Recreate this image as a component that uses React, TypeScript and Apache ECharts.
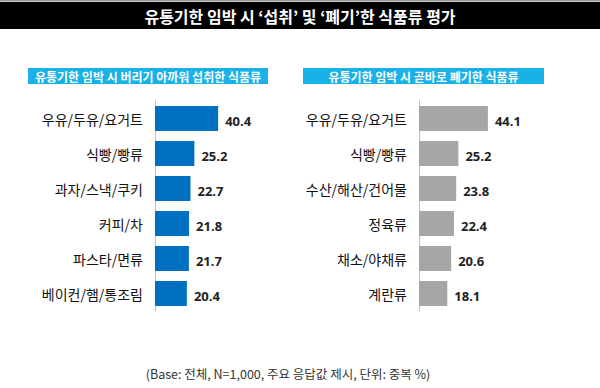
import React, { useEffect, useRef } from "react";
import * as echarts from "echarts";

const titleText = "유통기한 임박 시 ‘섭취’ 및 ‘폐기’한 식품류 평가";
const leftHeader = "유통기한 임박 시 버리기 아까워 섭취한 식품류";
const rightHeader = "유통기한 임박 시 곧바로 폐기한 식품류";
const footnote = "(Base: 전체, N=1,000, 주요 응답값 제시, 단위: 중복 %)";

const leftCategories = ["우유/두유/요거트", "식빵/빵류", "과자/스낵/쿠키", "커피/차", "파스타/면류", "베이컨/햄/통조림"];
const leftValues = [40.4, 25.2, 22.7, 21.8, 21.7, 20.4];

const rightCategories = ["우유/두유/요거트", "식빵/빵류", "수산/해산/건어물", "정육류", "채소/야채류", "계란류"];
const rightValues = [44.1, 25.2, 23.8, 22.4, 20.6, 18.1];

const FONT = "'Noto Sans CJK KR', 'Noto Sans', sans-serif";

export default function App() {
  const ref = useRef<HTMLDivElement>(null);
  useEffect(() => {
    if (!ref.current) return;
    const chart = echarts.init(ref.current, undefined, { renderer: "svg" });
    const gridTop = 101;
    const gridHeight = 210;
    const common = (idx: number) => ({
      type: "category" as const,
      gridIndex: idx,
      inverse: true,
      axisLine: { show: true, lineStyle: { color: "#bfbfbf", width: 1 } },
      axisTick: { show: false },
      axisLabel: { fontSize: 14, color: "#111", margin: 12, fontFamily: FONT },
    });
    const valueLabel = {
      show: true,
      position: "right" as const,
      distance: 7,
      offset: [0, 2],
      fontSize: 13,
      fontWeight: "bold" as const,
      color: "#222",
      fontFamily: "'Open Sans', sans-serif",
      formatter: (p: any) => p.value.toFixed(1),
    };
    chart.setOption({
      animation: false,
      backgroundColor: "#ffffff",
      grid: [
        { left: 155, top: gridTop, width: 125, height: gridHeight },
        { left: 419, top: gridTop, width: 125, height: gridHeight },
      ],
      xAxis: [
        { type: "value", gridIndex: 0, min: 0, max: 80, show: false },
        { type: "value", gridIndex: 1, min: 0, max: 80, show: false },
      ],
      yAxis: [
        { ...common(0), data: leftCategories },
        { ...common(1), data: rightCategories },
      ],
      series: [
        {
          type: "bar",
          xAxisIndex: 0,
          yAxisIndex: 0,
          data: leftValues,
          barWidth: 25,
          itemStyle: { color: "#0070c0" },
          label: valueLabel,
        },
        {
          type: "bar",
          xAxisIndex: 1,
          yAxisIndex: 1,
          data: rightValues,
          barWidth: 25,
          itemStyle: { color: "#a6a6a6" },
          label: valueLabel,
        },
      ],
      graphic: [
        { type: "rect", shape: { x: 0, y: 0, width: 600, height: 1.5 }, style: { fill: "#9a9a9a" } },
        { type: "rect", shape: { x: 0, y: 2, width: 600, height: 27 }, style: { fill: "#000000" } },
        {
          type: "text",
          x: 300,
          y: 16,
          style: {
            text: titleText,
            fill: "#ffffff",
            font: `bold 16px ${FONT}`,
            textAlign: "center",
            textVerticalAlign: "middle",
          },
        },
        { type: "rect", shape: { x: 28, y: 68, width: 240, height: 16 }, style: { fill: "#1ab0e8" } },
        {
          type: "text",
          x: 148,
          y: 76,
          style: {
            text: leftHeader,
            fill: "#ffffff",
            font: `bold 12px ${FONT}`,
            textAlign: "center",
            textVerticalAlign: "middle",
          },
        },
        { type: "rect", shape: { x: 303, y: 68, width: 241, height: 16 }, style: { fill: "#1ab0e8" } },
        {
          type: "text",
          x: 423.5,
          y: 76,
          style: {
            text: rightHeader,
            fill: "#ffffff",
            font: `bold 12px ${FONT}`,
            textAlign: "center",
            textVerticalAlign: "middle",
          },
        },
        {
          type: "text",
          x: 288,
          y: 373,
          style: {
            text: footnote,
            fill: "#333333",
            font: `12.5px ${FONT}`,
            textAlign: "center",
            textVerticalAlign: "middle",
          },
        },
      ],
    });
    return () => chart.dispose();
  }, []);
  return (
    <div
      ref={ref}
      style={{ position: "fixed", left: 0, top: 0, width: 600, height: 388, background: "#fff" }}
    />
  );
}
